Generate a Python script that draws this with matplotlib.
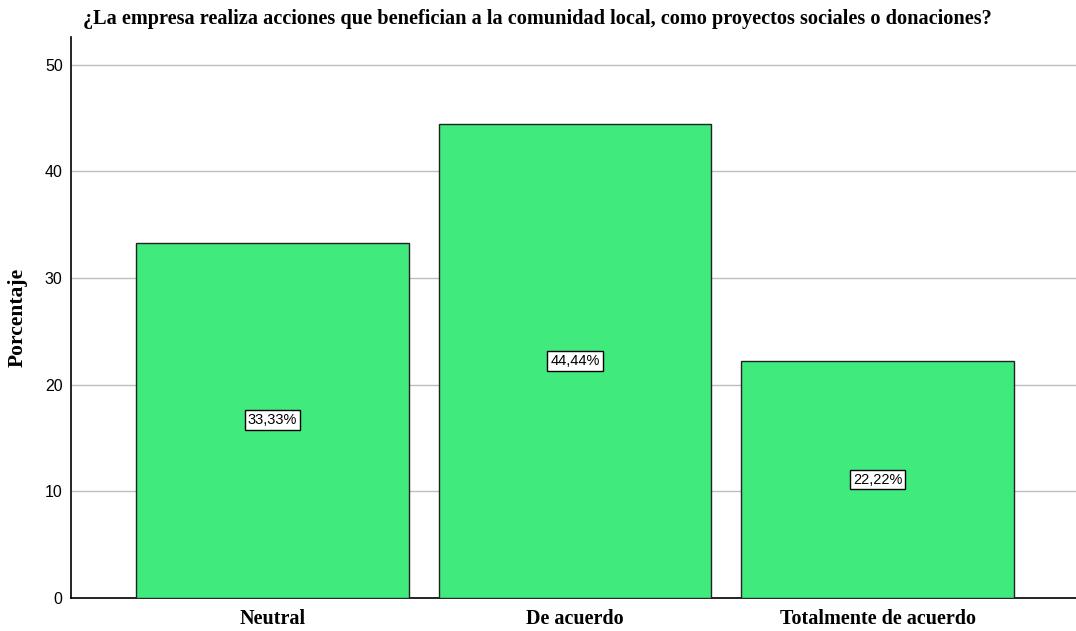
import matplotlib
matplotlib.use("Agg")
import matplotlib.pyplot as plt
import numpy as np

categories = ["Neutral", "De acuerdo", "Totalmente de acuerdo"]
values = [33.33, 44.44, 22.22]
labels = ["33,33%", "44,44%", "22,22%"]
yticks = [0, 10, 20, 30, 40, 50]
title = "¿La empresa realiza acciones que benefician a la comunidad local, como proyectos sociales o donaciones?"

serif = ["Liberation Serif", "DejaVu Serif"]
narrow = ["Liberation Sans Narrow", "Liberation Sans", "DejaVu Sans"]

fig = plt.figure(figsize=(10.76, 6.31), dpi=100)
ax = fig.add_axes([71/1076, 33/631, 1 - 71/1076, (598-37)/631])

x = np.arange(len(categories))
ax.bar(x, values, width=0.9, color="#41EA7D", edgecolor="#222222", linewidth=1.0, zorder=3)

for xi, v, lab in zip(x, values, labels):
    ax.text(xi, v/2, lab, ha="center", va="center", fontsize=10.5, family=narrow,
            bbox=dict(boxstyle="square,pad=0.2", facecolor="white", edgecolor="black", linewidth=1.0),
            zorder=4)

ax.set_xlim(-0.666, 2.656)
ax.set_ylim(0, 52.6)
ax.set_yticks(yticks)
ax.set_yticklabels([str(t) for t in yticks], family=narrow, fontsize=11.5)
ax.set_xticks(x)
ax.set_xticklabels(categories, family=serif, fontweight="bold", fontsize=14.5)
ax.tick_params(axis="y", length=0, pad=6)
ax.tick_params(axis="x", length=0, pad=8)
ax.grid(axis="y", color="#bdbdbd", linewidth=1.0, zorder=0)
ax.set_axisbelow(True)
for s in ["top", "right"]:
    ax.spines[s].set_visible(False)
ax.spines["left"].set_linewidth(1.2)
ax.spines["bottom"].set_linewidth(1.2)

ax.set_ylabel("Porcentaje", family=serif, fontweight="bold", fontsize=15.5, labelpad=12)
fig.text(537/1076, 1 - 19/631, title, ha="center", va="center", family=serif,
         fontweight="bold", fontsize=14.6)

fig.savefig("out.png", dpi=100)
